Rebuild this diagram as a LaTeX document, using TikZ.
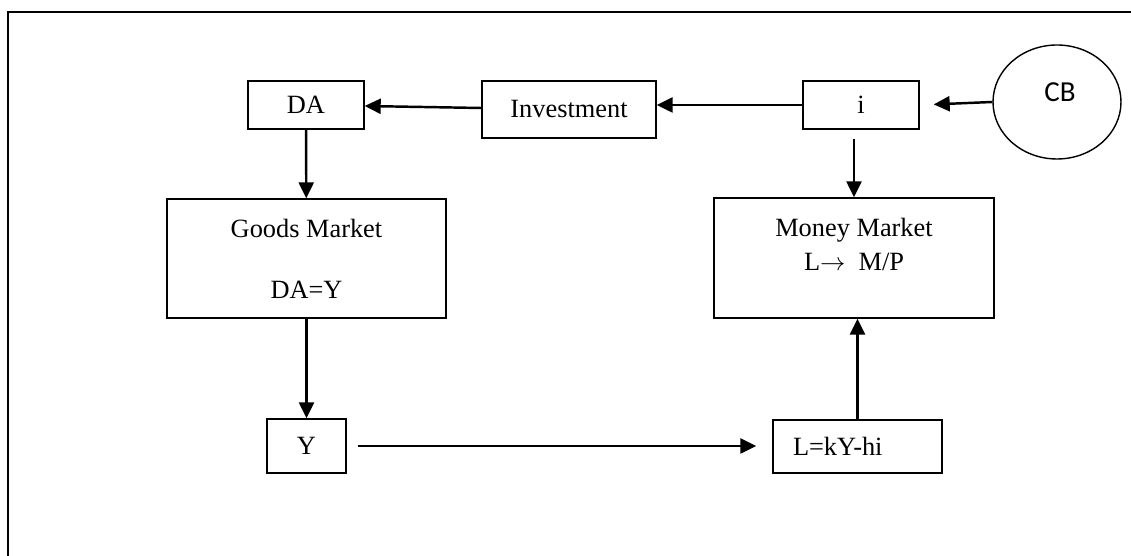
\documentclass[tikz,border=0pt]{standalone}
\usepackage{fontspec}
\setmainfont{Liberation Serif}
\newfontfamily\cbfont{Carlito}
\usetikzlibrary{arrows.meta,positioning,calc,shapes.geometric}

\begin{document}
\begin{tikzpicture}[>={Triangle[length=0.32cm,width=0.3cm]},
    box/.style={draw, line width=0.8pt, rectangle, inner sep=0pt,
                font=\fontsize{15pt}{18pt}\selectfont, align=center},
    market/.style={box, minimum width=5.58cm, minimum height=2.38cm},
    flow/.style={->, line width=1.4pt}]
    \useasboundingbox (0,0) rectangle (22.62,11.12);

    % frame
    \draw[line width=0.6pt] (22.62,10.88) -- (0.16,10.88) -- (0.16,0);

    \node[box, minimum width=2.32cm, minimum height=0.96cm] (da)     at (6.12,9.02)  {DA};
    \node[box, minimum width=3.48cm, minimum height=1.14cm] (invest) at (11.38,8.93) {Investment};
    \node[box, minimum width=2.32cm, minimum height=0.96cm] (i)      at (17.22,9.02) {i};
    \node[ellipse, draw, line width=0.8pt, minimum width=2.56cm, minimum height=2.28cm,
          label={[font=\cbfont\fontsize{16.5pt}{19pt}\selectfont, xshift=0.06cm, yshift=0.2cm]center:CB}]
          (cb) at (21.14,9.08) {};

    \node[market] (goods) at (6.13,5.95) {Goods Market\\[0.585cm]DA=Y};
    \node[market, minimum width=5.6cm, minimum height=2.4cm,
          label={[align=center, font=\fontsize{15pt}{18pt}\selectfont, yshift=0.27cm]center:Money Market\\[0.06cm]L$\rightarrow$~ M/P}]
          (money) at (17.08,5.96) {};

    \node[box, minimum width=1.58cm, minimum height=1.08cm] (y) at (6.13,2.2) {Y};
    \node[box, minimum height=1.06cm, inner xsep=0.4cm, text width=2.58cm, align=left]
          (lkh) at (17.15,2.19) {L=kY-hi};

    \draw[flow] (invest) -- (da);
    \draw[flow] (i.west) -- (i.west -| invest.east);
    \draw[flow, shorten >=0.28cm] (cb.west) -- (i.east);
    \draw[flow, shorten <=0.18cm] (i.south -| money.north) -- (money.north);
    \draw[flow] (da) -- (goods);
    \draw[flow] (goods) -- (y);
    \draw[flow, shorten <=0.22cm, shorten >=0.32cm] (y.east) -- (y.east -| lkh.west);
    \draw[flow] (lkh.north) -- (lkh.north |- money.south);
\end{tikzpicture}
\end{document}
